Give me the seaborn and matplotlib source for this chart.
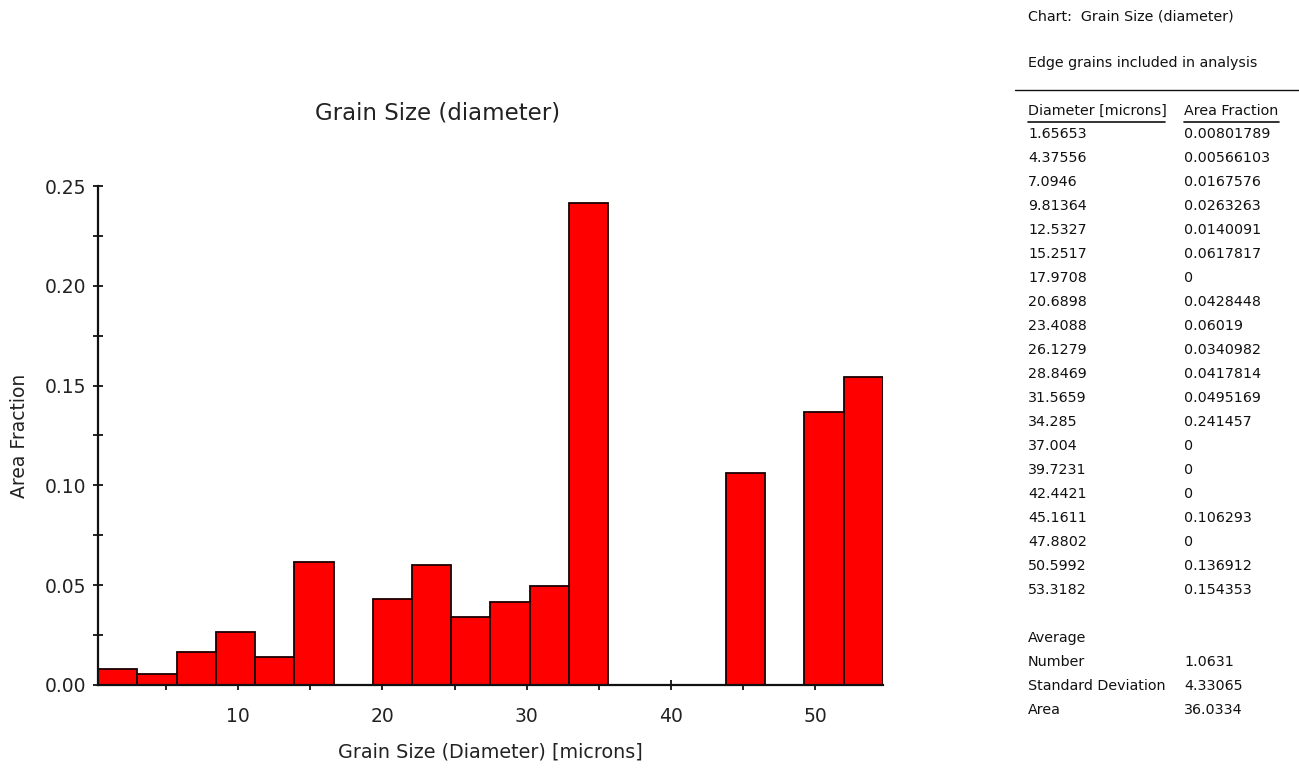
import numpy as np
import pandas as pd
import seaborn as sns
import matplotlib.pyplot as plt
from matplotlib.lines import Line2D

# bin centres and values as listed in the report table
diameter = [1.65653, 4.37556, 7.0946, 9.81364, 12.5327, 15.2517, 17.9708,
            20.6898, 23.4088, 26.1279, 28.8469, 31.5659, 34.285, 37.004,
            39.7231, 42.4421, 45.1611, 47.8802, 50.5992, 53.3182]
area_fraction = [0.00801789, 0.00566103, 0.0167576, 0.0263263, 0.0140091,
                 0.0617817, 0, 0.0428448, 0.06019, 0.0340982, 0.0417814,
                 0.0495169, 0.241457, 0, 0, 0, 0.106293, 0, 0.136912, 0.154353]
summary_labels = ["Number", "Standard Deviation", "Area"]
summary_values = ["1.0631", "4.33065", "36.0334"]

sns.set_theme(style="white")
plt.rcParams['font.family'] = ['DejaVu Sans']

df = pd.DataFrame({"diameter": diameter, "frac": area_fraction})
centres = np.array(diameter)
half = (centres[1] - centres[0]) / 2
lo, hi = centres[0] - half, centres[-1] + half

fig = plt.figure(figsize=(12.99, 7.68), dpi=100)
ax = fig.add_axes([98 / 1299, 1 - 685 / 768, (883 - 98) / 1299, 499 / 768])

sns.histplot(data=df, x="diameter", weights="frac", bins=len(diameter),
             binrange=(lo, hi), ax=ax,
             color="#ff0000", alpha=1, edgecolor="#1a0000", linewidth=1.3)

ax.set_xlim(lo, hi)
ax.set_ylim(0, 0.25)
ax.set_xticks([10, 20, 30, 40, 50])
ax.set_xticks([5, 15, 25, 35, 45], minor=True)
ax.set_yticks(np.arange(0, 0.26, 0.05))
ax.set_yticks(np.arange(0.025, 0.25, 0.05), minor=True)
ax.set_yticklabels([f"{v:.2f}" for v in np.arange(0, 0.26, 0.05)])
ax.tick_params(axis="both", which="both", direction="inout", length=7,
               width=1.3, color="#111111", labelsize=13.5, labelcolor="#222222",
               bottom=True, left=True)
ax.tick_params(axis="x", which="major", pad=12)
ax.tick_params(axis="y", which="major", pad=5)
ax.set_axisbelow(True)
for s in ["top", "right"]:
    ax.spines[s].set_visible(False)
for s in ["left", "bottom"]:
    ax.spines[s].set_color("#111111")
    ax.spines[s].set_linewidth(1.6)

ax.set_xlabel("Grain Size (Diameter) [microns]", fontsize=13.8, color="#222222", labelpad=12)
ax.set_ylabel("Area Fraction", fontsize=13.5, color="#222222", labelpad=11)
fig.text(438 / 1299, 1 - 113 / 768, "Grain Size (diameter)", ha="center", va="center",
         fontsize=16.5, color="#222222")

# report panel on the right
def px(x, y):
    return x / 1299, 1 - y / 768

tkw = dict(fontsize=10.3, color="#111111", va="center", ha="left")
fig.text(*px(1028, 16), "Chart:  Grain Size (diameter)", **tkw)
fig.text(*px(1028, 63), "Edge grains included in analysis", **tkw)
fig.add_artist(Line2D([1015 / 1299, 1], [1 - 90 / 768] * 2, color="#111111", lw=1))
fig.text(*px(1028, 111), "Diameter [microns]", **tkw)
fig.text(*px(1184, 111), "Area Fraction", **tkw)
fig.add_artist(Line2D([1028 / 1299, 1165 / 1299], [1 - 122 / 768] * 2, color="#111111", lw=1.2))
fig.add_artist(Line2D([1184 / 1299, 1279 / 1299], [1 - 122 / 768] * 2, color="#111111", lw=1.2))
for i, (d, f) in enumerate(zip(diameter, area_fraction)):
    y = 134 + 24 * i
    fig.text(*px(1028, y), f"{d:g}", **tkw)
    fig.text(*px(1184, y), f"{f:g}", **tkw)
fig.text(*px(1028, 638), "Average", **tkw)
for i, (lab, val) in enumerate(zip(summary_labels, summary_values)):
    y = 662 + 24 * i
    fig.text(*px(1028, y), lab, **tkw)
    fig.text(*px(1184, y), val, **tkw)

fig.savefig("out.png", dpi=100)
